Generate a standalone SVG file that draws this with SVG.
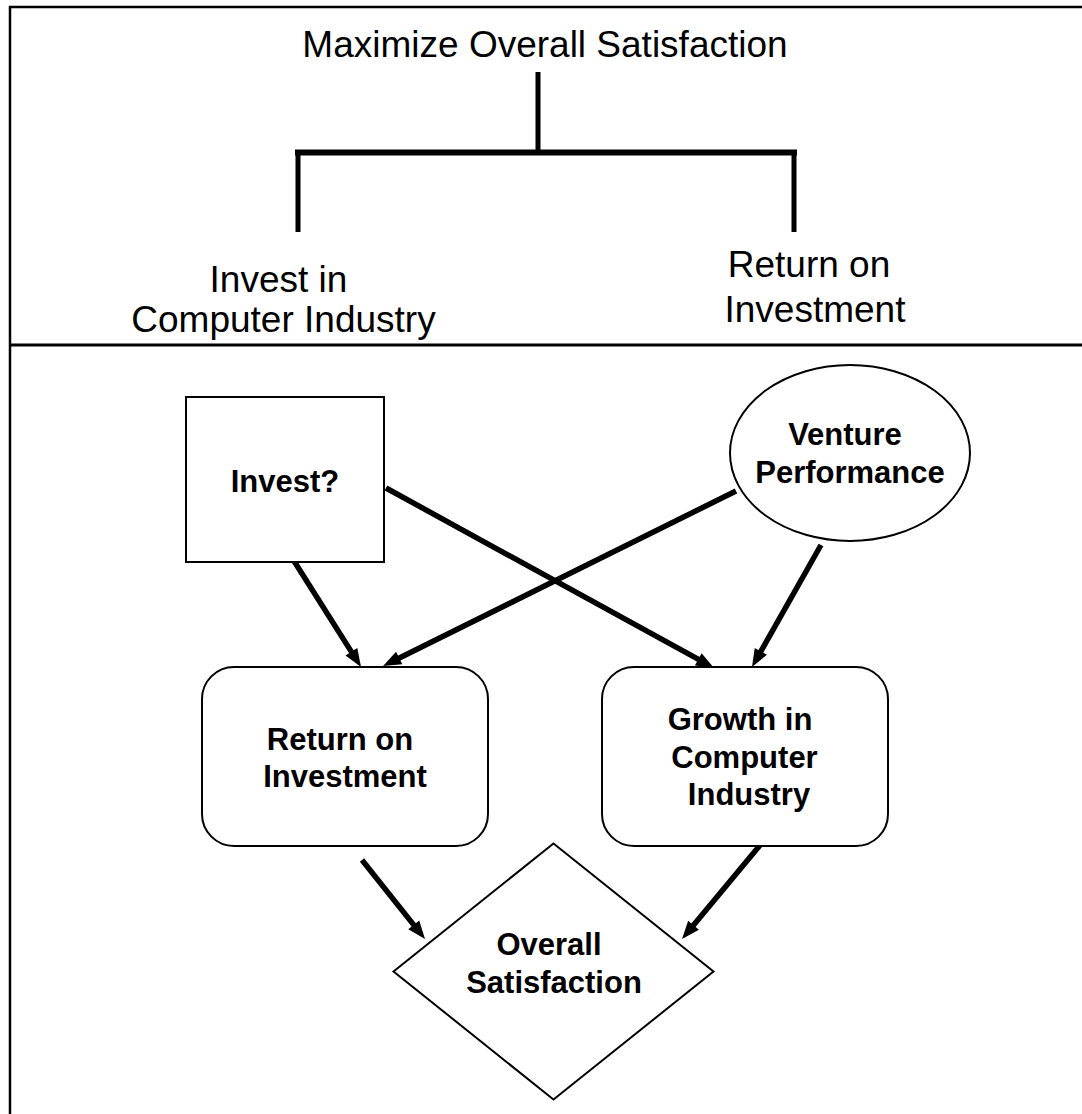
<svg xmlns="http://www.w3.org/2000/svg" width="1082" height="1114" viewBox="0 0 1082 1114">
  <style>
    .frame { stroke: #000; fill: none; }
    .tree { stroke: #000; fill: none; stroke-linecap: butt; }
    .lbl { font-family: "Liberation Sans", Arial, sans-serif; font-size: 37px; fill: #000; text-anchor: middle; }
    .nlbl { font-family: "Liberation Sans", Arial, sans-serif; font-size: 31px; font-weight: bold; fill: #000; text-anchor: middle; }
    .shape { fill: #fff; stroke: #000; stroke-width: 2; }
    .arrow { stroke: #000; stroke-width: 5.5; fill: none; marker-end: url(#ah); }
  </style>
  <defs>
    <marker id="ah" markerUnits="userSpaceOnUse" markerWidth="18" markerHeight="14" refX="6" refY="7" orient="auto" overflow="visible">
      <path d="M0,0 L18,7 L0,14 z" fill="#000"/>
    </marker>
  </defs>
  <rect x="0" y="0" width="1082" height="1114" fill="#fff"/>

  <g id="frame">
    <line class="frame" x1="9" y1="7" x2="1082" y2="7" stroke-width="2.5"/>
    <line class="frame" x1="10" y1="6" x2="10" y2="1114" stroke-width="2.5"/>
    <line class="frame" x1="10" y1="345" x2="1082" y2="345" stroke-width="3"/>
  </g>

  <g id="hierarchy-lines">
    <line class="tree" x1="538" y1="72" x2="538" y2="153" stroke-width="5"/>
    <line class="tree" x1="295" y1="152.5" x2="797" y2="152.5" stroke-width="6"/>
    <line class="tree" x1="298" y1="150" x2="298" y2="232" stroke-width="5"/>
    <line class="tree" x1="794" y1="150" x2="794" y2="232" stroke-width="5"/>
  </g>

  <g id="goal">
    <text class="lbl" x="545" y="57">Maximize Overall Satisfaction</text>
  </g>
  <g id="objective-invest">
    <text class="lbl" x="278.5" y="292">Invest in</text>
    <text class="lbl" x="283.5" y="332">Computer Industry</text>
  </g>
  <g id="objective-return">
    <text class="lbl" x="809" y="277">Return on</text>
    <text class="lbl" x="815" y="322">Investment</text>
  </g>

  <g id="connectors">
    <line class="arrow" x1="294" y1="561" x2="354.6" y2="656.9"/>
    <line class="arrow" x1="736" y1="491" x2="393.8" y2="660.7"/>
    <line class="arrow" x1="386" y1="488" x2="703.5" y2="662.2"/>
    <line class="arrow" x1="821" y1="545" x2="757.9" y2="656.6"/>
    <line class="arrow" x1="362" y1="860" x2="417.5" y2="929.6"/>
    <line class="arrow" x1="761" y1="844" x2="689.7" y2="929.8"/>
  </g>

  <g id="node-invest">
    <rect class="shape" x="186" y="397" width="198" height="165"/>
    <text class="nlbl" x="285" y="492">Invest?</text>
  </g>
  <g id="node-venture">
    <ellipse class="shape" cx="850" cy="453" rx="120" ry="88"/>
    <text class="nlbl" x="845" y="445">Venture</text>
    <text class="nlbl" x="850" y="483">Performance</text>
  </g>
  <g id="node-roi">
    <rect class="shape" x="202" y="667" width="286" height="179" rx="32" ry="32"/>
    <text class="nlbl" x="340" y="750">Return on</text>
    <text class="nlbl" x="345" y="787">Investment</text>
  </g>
  <g id="node-growth">
    <rect class="shape" x="602" y="667" width="286" height="179" rx="32" ry="32"/>
    <text class="nlbl" x="740" y="730">Growth in</text>
    <text class="nlbl" x="744.5" y="768">Computer</text>
    <text class="nlbl" x="749" y="805">Industry</text>
  </g>
  <g id="node-satisfaction">
    <polygon class="shape" points="553.5,843.5 713.5,971.5 553.5,1099.5 393.5,971.5"/>
    <text class="nlbl" x="549" y="955">Overall</text>
    <text class="nlbl" x="554" y="993">Satisfaction</text>
  </g>
</svg>
